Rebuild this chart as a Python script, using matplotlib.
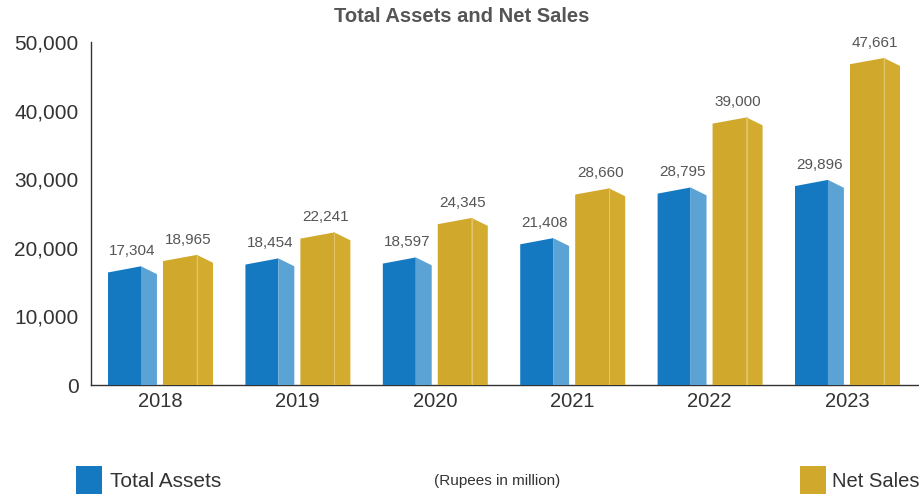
import matplotlib
matplotlib.use("Agg")
import matplotlib.pyplot as plt
from matplotlib.patches import Polygon, Rectangle
from matplotlib.ticker import FuncFormatter

plt.rcParams["font.family"] = ["Liberation Sans", "DejaVu Sans"]

# ---- data (Rupees in million) ----
years = ["2018", "2019", "2020", "2021", "2022", "2023"]
total_assets = [17304, 18454, 18597, 21408, 28795, 29896]
net_sales = [18965, 22241, 24345, 28660, 39000, 47661]

# ---- palette ----
BLUE_F = "#1479c0"
BLUE_S = "#5ba3d5"
GOLD_F = "#d0a92c"
GOLD_S = "#d3ab2e"
GOLD_EDGE = "#e2c56a"
TXT = "#333333"
LBL = "#555555"
AXC = "#333333"

# bar geometry in category units (front face start/end, side face end)
BLUE_X = (-0.378, -0.138, -0.022)
GOLD_X = (0.022, 0.269, 0.386)
DROP_FRONT = 900    # front top edge rises to the peak
DROP_SIDE = 1150    # side top edge falls away from the peak


def prism(ax, xc, val, geom, cf, cs, edge=None):
    x0, x1, x2 = (xc + g for g in geom)
    front = [(x0, 0), (x0, val - DROP_FRONT), (x1, val), (x1, 0)]
    side = [(x1, 0), (x1, val), (x2, val - DROP_SIDE), (x2, 0)]
    ax.add_patch(Polygon(front, closed=True, facecolor=cf, edgecolor="none", zorder=3))
    ax.add_patch(Polygon(side, closed=True, facecolor=cs, edgecolor="none", zorder=3))
    if edge:
        ax.plot([x1, x1], [0, val], color=edge, lw=0.8, zorder=4)
    ax.annotate(f"{val:,}", ((x0 + x2) / 2, val), textcoords="offset points",
                xytext=(0, 6), ha="center", va="bottom", fontsize=11, color=LBL)


fig = plt.figure(figsize=(9.2, 4.98), dpi=100)
ax = fig.add_axes([0.0989, 0.2269, 0.8989, 0.6888])

for i in range(len(years)):
    prism(ax, i, total_assets[i], BLUE_X, BLUE_F, BLUE_S)
    prism(ax, i, net_sales[i], GOLD_X, GOLD_F, GOLD_S, edge=GOLD_EDGE)

ax.set_xlim(-0.502, 5.517)
ax.set_ylim(0, 50000)
ax.set_yticks(range(0, 50001, 10000))
ax.yaxis.set_major_formatter(FuncFormatter(lambda v, p: f"{int(v):,}"))
ax.set_xticks(range(len(years)))
ax.set_xticklabels(years)
ax.tick_params(axis="y", length=0, pad=9, labelsize=15, labelcolor=TXT)
ax.tick_params(axis="x", length=0, pad=5, labelsize=14.5, labelcolor=TXT)
for s in ["top", "right"]:
    ax.spines[s].set_visible(False)
for s in ["left", "bottom"]:
    ax.spines[s].set_color(AXC)
    ax.spines[s].set_linewidth(1.0)

fig.text(0.502, 1 - 17 / 498, "Total Assets and Net Sales", ha="center", va="center",
         fontsize=14.5, fontweight="bold", color=LBL)

# legend drawn by hand
fig.patches.append(Rectangle((76 / 920, 1 - 494 / 498), 26 / 920, 28 / 498,
                             transform=fig.transFigure, facecolor=BLUE_F, edgecolor="none"))
fig.text(110 / 920, 1 - 481 / 498, "Total Assets", ha="left", va="center", fontsize=15, color=TXT)
fig.text(497 / 920, 1 - 481 / 498, "(Rupees in million)", ha="center", va="center",
         fontsize=11, color=TXT)
fig.patches.append(Rectangle((800 / 920, 1 - 494 / 498), 26 / 920, 28 / 498,
                             transform=fig.transFigure, facecolor=GOLD_F, edgecolor="none"))
fig.text(832 / 920, 1 - 481 / 498, "Net Sales", ha="left", va="center", fontsize=14.5, color=TXT)

fig.savefig("out.png", dpi=100, facecolor="white")
